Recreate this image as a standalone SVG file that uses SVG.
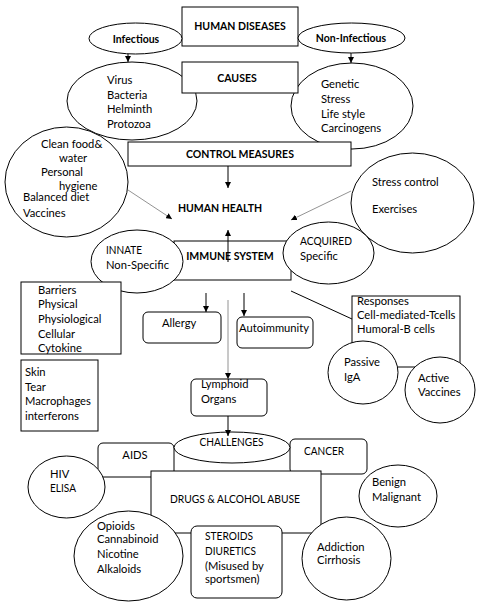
<svg xmlns="http://www.w3.org/2000/svg" width="483" height="607" viewBox="0 0 483 607">
<style>
.s{fill:#fff;stroke:#000;stroke-width:1}
.t{font-family:Lato,"Liberation Sans",sans-serif;font-size:11.2px;fill:#000}
.b{font-weight:bold;font-size:10.5px}
.m{text-anchor:middle}
.c{stroke:#000;stroke-width:1;fill:none}
.g{stroke:#777;stroke-width:0.8;fill:none}
</style>
<defs>
<marker id="a" viewBox="0 0 10 10" refX="10" refY="5" markerWidth="6" markerHeight="6" orient="auto" markerUnits="userSpaceOnUse"><path d="M0,0L10,5L0,10z" fill="#000"/></marker>
</defs>
<rect width="483" height="607" fill="#fff"/>

<g id="human-diseases"><rect class="s" x="182" y="7" width="116" height="39"/><text class="t b m" x="240" y="30">HUMAN DISEASES</text></g>
<g id="infectious"><ellipse class="s" cx="135.5" cy="38.5" rx="46.5" ry="15.5"/><text class="t b m" x="136" y="43">Infectious</text></g>
<g id="non-infectious"><ellipse class="s" cx="351.5" cy="38" rx="53.5" ry="15"/><text class="t b m" x="351" y="42">Non-Infectious</text></g>

<g id="infectious-causes"><ellipse class="s" cx="132" cy="101" rx="65" ry="39"/>
<text class="t" x="107" y="84">Virus</text><text class="t" x="107" y="99">Bacteria</text><text class="t" x="107" y="113">Helminth</text><text class="t" x="107" y="128">Protozoa</text></g>
<g id="noninfectious-causes"><ellipse class="s" cx="352" cy="106" rx="61" ry="43"/>
<text class="t" x="321" y="88">Genetic</text><text class="t" x="321" y="103">Stress</text><text class="t" x="321" y="118">Life style</text><text class="t" x="321" y="132">Carcinogens</text></g>
<g id="causes"><rect class="s" x="182" y="62" width="116" height="31"/><text class="t b m" x="237" y="82">CAUSES</text></g>

<g id="infectious-control"><ellipse class="s" cx="66.5" cy="182" rx="61.5" ry="55"/>
<text class="t" x="41" y="148">Clean food&amp;</text><text class="t" x="59" y="162">water</text><text class="t" x="41" y="176">Personal</text><text class="t" x="59" y="190">hygiene</text><text class="t" x="23" y="201">Balanced diet</text><text class="t" x="23" y="217">Vaccines</text></g>
<g id="control-measures"><rect class="s" x="128" y="142" width="223" height="24"/><text class="t b m" x="240" y="158">CONTROL MEASURES</text></g>
<g id="noninfectious-control"><ellipse class="s" cx="412.5" cy="203" rx="61.5" ry="50"/>
<text class="t" x="372" y="186">Stress control</text><text class="t" x="372" y="213">Exercises</text></g>

<g id="human-health"><text class="t b m" x="220" y="212">HUMAN HEALTH</text></g>

<g id="immune-system"><rect class="s" x="174" y="241" width="117" height="39"/><text class="t b m" x="230" y="260">IMMUNE SYSTEM</text></g>
<g id="innate"><ellipse class="s" cx="137" cy="261.5" rx="46" ry="31.5"/><text class="t" x="106" y="254" textLength="36" lengthAdjust="spacingAndGlyphs">INNATE</text><text class="t" x="106" y="269">Non-Specific</text></g>
<g id="acquired"><ellipse class="s" cx="328.5" cy="253" rx="45.5" ry="31"/><text class="t" x="300" y="245" textLength="52" lengthAdjust="spacingAndGlyphs">ACQUIRED</text><text class="t" x="300" y="260">Specific</text></g>

<g id="barriers"><rect class="s" x="21" y="282" width="100" height="72"/>
<text class="t" x="38" y="294">Barriers</text><text class="t" x="38" y="308">Physical</text><text class="t" x="38" y="323">Physiological</text><text class="t" x="38" y="338">Cellular</text><text class="t" x="38" y="352">Cytokine</text></g>
<g id="skin"><rect class="s" x="21" y="360" width="77" height="71"/>
<text class="t" x="25" y="376">Skin</text><text class="t" x="25" y="391">Tear</text><text class="t" x="25" y="405">Macrophages</text><text class="t" x="25" y="420">interferons</text></g>

<g id="allergy"><rect class="s" x="143" y="312" width="78" height="31" rx="5"/><text class="t" x="162" y="327">Allergy</text></g>
<g id="autoimmunity"><rect class="s" x="237" y="317" width="76" height="31" rx="5"/><text class="t" x="239" y="332">Autoimmunity</text></g>
<g id="lymphoid"><rect class="s" x="191" y="379" width="76" height="37" rx="5"/><text class="t" x="201" y="388">Lymphoid</text><text class="t" x="201" y="403">Organs</text></g>

<g id="responses"><rect class="s" x="352" y="296" width="108" height="71"/>
<text class="t" x="357" y="305">Responses</text><text class="t" x="357" y="319">Cell-mediated-Tcells</text><text class="t" x="357" y="333">Humoral-B cells</text></g>
<g id="passive"><ellipse class="s" cx="363" cy="372.5" rx="35" ry="31.5"/><text class="t" x="344" y="366">Passive</text><text class="t" x="344" y="381">IgA</text></g>
<g id="active"><ellipse class="s" cx="440" cy="390" rx="35" ry="33"/><text class="t" x="418" y="382">Active</text><text class="t" x="418" y="396">Vaccines</text></g>

<g id="aids"><rect class="s" x="98" y="443" width="76" height="34" rx="5"/><text class="t m" x="135" y="459">AIDS</text></g>
<g id="cancer"><rect class="s" x="290" y="439" width="77" height="35" rx="5"/><text class="t m" x="324" y="455" textLength="40" lengthAdjust="spacingAndGlyphs">CANCER</text></g>
<g id="challenges"><ellipse class="s" cx="232" cy="447.5" rx="58" ry="15.5"/><text class="t m" x="231.5" y="446" textLength="64" lengthAdjust="spacingAndGlyphs">CHALLENGES</text></g>
<g id="drugs"><rect class="s" x="151" y="471" width="170" height="62"/><text class="t m" x="235" y="503" textLength="130" lengthAdjust="spacingAndGlyphs">DRUGS &amp; ALCOHOL ABUSE</text></g>
<g id="hiv"><ellipse class="s" cx="66.5" cy="487" rx="38.5" ry="31"/><text class="t" x="50" y="478">HIV</text><text class="t" x="50" y="492" textLength="26" lengthAdjust="spacingAndGlyphs">ELISA</text></g>
<g id="benign"><ellipse class="s" cx="398" cy="496" rx="39" ry="31"/><text class="t" x="372" y="486">Benign</text><text class="t" x="372" y="501">Malignant</text></g>
<g id="opioids"><ellipse class="s" cx="128.5" cy="556" rx="54.5" ry="45"/>
<text class="t" x="97" y="530">Opioids</text><text class="t" x="97" y="543">Cannabinoid</text><text class="t" x="97" y="558">Nicotine</text><text class="t" x="97" y="573">Alkaloids</text></g>
<g id="steroids"><rect class="s" x="191" y="526" width="91" height="72" rx="6"/>
<text class="t" x="205" y="540" textLength="48" lengthAdjust="spacingAndGlyphs">STEROIDS</text><text class="t" x="205" y="555" textLength="51" lengthAdjust="spacingAndGlyphs">DIURETICS</text><text class="t" x="205" y="570">(Misused by</text><text class="t" x="205" y="583">sportsmen)</text></g>
<g id="addiction"><ellipse class="s" cx="346.5" cy="558.5" rx="44.5" ry="41.5"/><text class="t" x="317" y="551">Addiction</text><text class="t" x="317" y="564">Cirrhosis</text></g>

<g id="connectors">
<line class="c" x1="128" y1="54" x2="128" y2="62" marker-end="url(#a)"/>
<line class="c" x1="351" y1="53" x2="351" y2="63" marker-end="url(#a)"/>
<line class="c" x1="228" y1="166" x2="228" y2="188" marker-end="url(#a)"/>
<line class="g" x1="128" y1="190" x2="172" y2="219" marker-end="url(#a)"/>
<line class="g" x1="351" y1="191" x2="291" y2="220" marker-end="url(#a)"/>
<line class="c" x1="228" y1="262" x2="228" y2="230" marker-end="url(#a)"/>
<line class="c" x1="206" y1="293" x2="206" y2="312" marker-end="url(#a)"/>
<line class="c" x1="244" y1="293" x2="244" y2="316" marker-end="url(#a)"/>
<line class="g" x1="228" y1="300" x2="228" y2="379" marker-end="url(#a)"/>
<line class="c" x1="291" y1="291" x2="352" y2="319"/>
<line class="c" x1="228" y1="416" x2="228" y2="436" marker-end="url(#a)"/>
</g>
</svg>
